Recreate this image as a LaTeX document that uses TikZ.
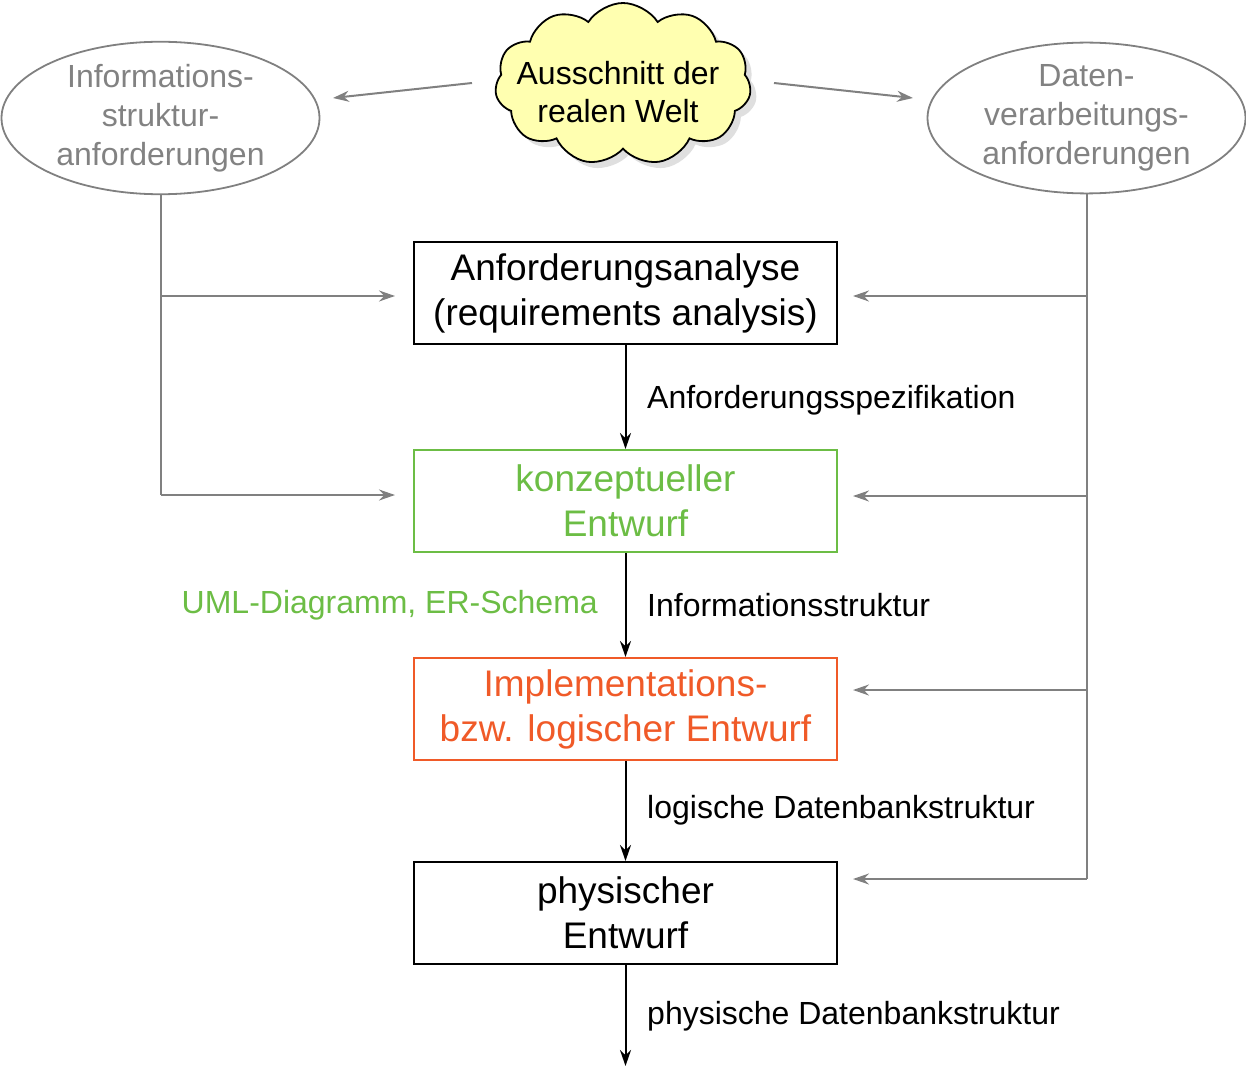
\documentclass[tikz,border=0pt]{standalone}
\usepackage{fontspec}
\setmainfont{Liberation Sans}
\usetikzlibrary{shapes.geometric,shapes.symbols,shadows,arrows.meta}
\definecolor{grayline}{RGB}{128,128,128}
\definecolor{graytext}{RGB}{130,130,130}
\definecolor{kgreen}{RGB}{108,189,69}
\definecolor{korange}{RGB}{240,90,40}
\definecolor{cloudfill}{RGB}{255,255,176}
\tikzset{
  stepbox/.style={draw, line width=2pt, minimum width=423pt, minimum height=102pt, inner sep=0pt, align=center, font=\fontsize{37}{45}\selectfont},
  reqell/.style={draw=grayline, line width=1.8pt, ellipse, minimum width=318pt, minimum height=145pt, inner sep=0pt, align=center, text=graytext, font=\fontsize{32}{39}\selectfont},
  grayarr/.style={draw=grayline, line width=2pt, -{Stealth[length=16pt,width=11pt]}},
  grayln/.style={draw=grayline, line width=2pt},
  flowarr/.style={draw=black, line width=2pt, -{Stealth[length=16pt,width=11pt]}},
  lbl/.style={font=\fontsize{32}{39}\selectfont, inner sep=0pt},
}
\begin{document}
\begin{tikzpicture}[x=1pt,y=-1pt]
\useasboundingbox (0,0) rectangle (1246,1067);
% requirement ellipses
\node[reqell] (left) at (160.5,118) {Informations-\\struktur-\\anforderungen};
\node[reqell] (right) at (1086.5,118) {Daten-\\verarbeitungs-\\anforderungen};
% cloud
\node[cloud, cloud puffs=11, cloud puff arc=115, cloud ignores aspect, draw, line width=1.8pt, fill=cloudfill,
      drop shadow={shadow xshift=6pt, shadow yshift=-6pt, fill=black!25},
      minimum width=256pt, minimum height=162pt, inner sep=0pt] (cloud) at (623,84) {};
\node[align=center, inner sep=0pt, font=\fontsize{32}{38}\selectfont] (cloudtext) at (618,92) {Ausschnitt der\\realen Welt};
% step boxes
\node[stepbox] (b1) at (625.5,293) {\raisebox{-2pt}{Anforderungsanalyse}\\\raisebox{-2pt}{(requirements analysis)}};
\node[stepbox, draw=kgreen, text=kgreen] (b2) at (625.5,501) {konzeptueller\\Entwurf};
\node[stepbox, draw=korange, text=korange] (b3) at (625.5,709) {Implementations-\\bzw. logischer Entwurf};
\node[stepbox] (b4) at (625.5,913) {physischer\\Entwurf};
\coordinate (out) at (625.5,1066);
% flow arrows
\draw[flowarr] (b1.south) -- (b2.north);
\draw[flowarr] (b2.south) -- (b3.north);
\draw[flowarr] (b3.south) -- (b4.north);
\draw[flowarr] (b4.south) -- (out);
% labels
\node[lbl, anchor=west] (l1) at (647,400) {Anforderungsspezifikation};
\node[lbl, anchor=west] (l2) at (647,605) {Informationsstruktur};
\node[lbl, anchor=east, text=kgreen] (l2b) at (598,605) {UML-Diagramm, ER-Schema};
\node[lbl, anchor=west] (l3) at (647,810) {logische Datenbankstruktur};
\node[lbl, anchor=west] (l4) at (647,1016) {physische Datenbankstruktur};
% cloud arrows
\coordinate (cl1) at (472,83);
\coordinate (cl2) at (333,98);
\coordinate (cr1) at (774,83);
\coordinate (cr2) at (913,98);
\draw[grayarr] (cl1) -- (cl2);
\draw[grayarr] (cr1) -- (cr2);
% left side connectors
\coordinate (L1) at (160.5,296);
\coordinate (L2) at (160.5,495);
\draw[grayln] (left.south) -- (L2);
\draw[grayarr, shorten >=18pt] (L1) -- (b1.west |- L1);
\draw[grayarr, shorten >=18pt] (L2) -- (b2.west |- L2);
% right side connectors
\coordinate (R1) at (1086.5,296);
\coordinate (R2) at (1086.5,496);
\coordinate (R3) at (1086.5,690);
\coordinate (R4) at (1086.5,879);
\draw[grayln] (right.south) -- (R4);
\draw[grayarr, shorten >=15pt] (R1) -- (b1.east |- R1);
\draw[grayarr, shorten >=15pt] (R2) -- (b2.east |- R2);
\draw[grayarr, shorten >=15pt] (R3) -- (b3.east |- R3);
\draw[grayarr, shorten >=15pt] (R4) -- (b4.east |- R4);
\end{tikzpicture}
\end{document}
